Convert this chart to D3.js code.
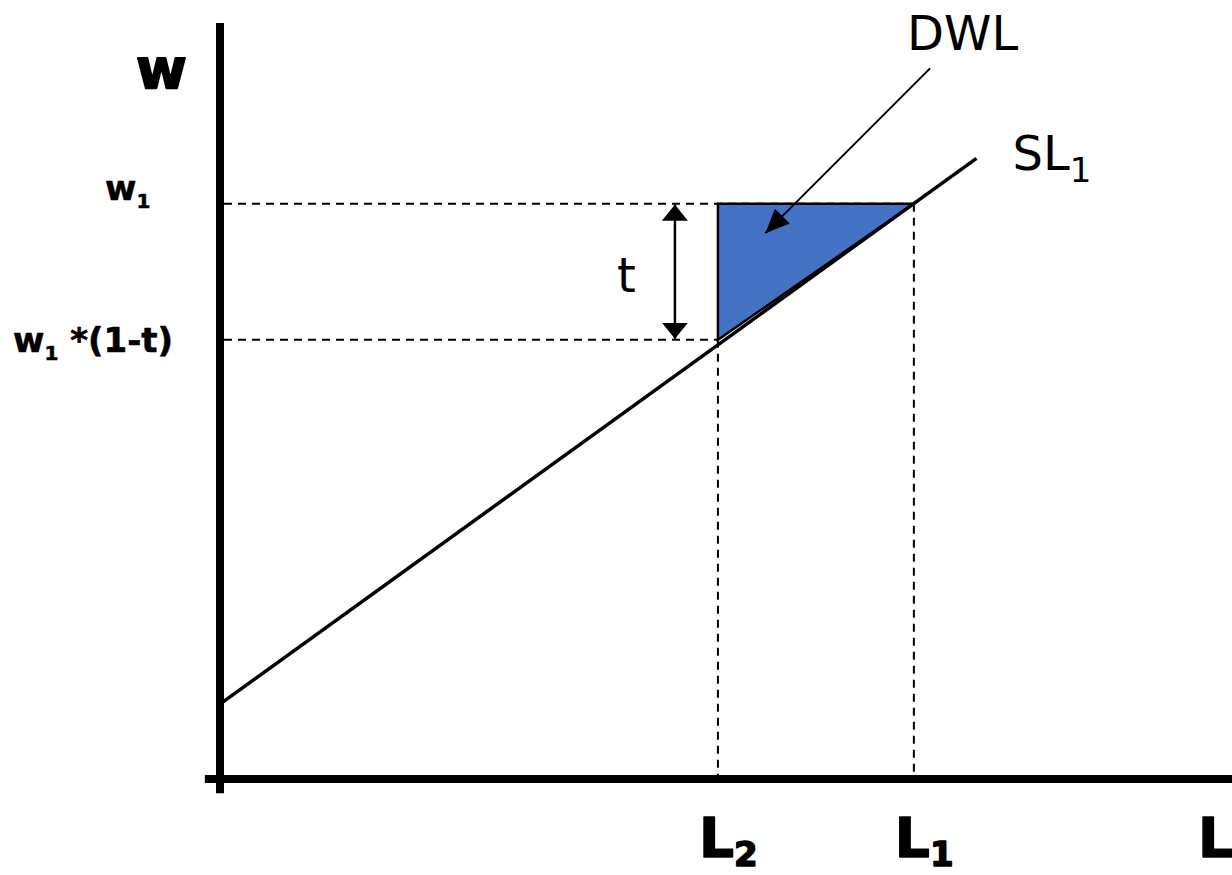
<!DOCTYPE html>
<html>
<head>
<meta charset="utf-8">
<script src="https://cdn.jsdelivr.net/npm/d3@7"></script>
<style>
  html, body { margin: 0; padding: 0; background: #fff; overflow: hidden; }
  svg { display: block; font-family: "DejaVu Sans", Verdana, sans-serif; }
</style>
</head>
<body>
<div id="chart"></div>
<script>
// Wage levels on the vertical axis: w1 and w1*(1-t)
const wageLevels = [76.1, 58.1]
const wageNames = [['w', '1', ''], ['w', '1', ' *(1-t)']]
// Labour levels on the horizontal axis: L2 and L1
const laborLevels = [49.3, 68.7]
const laborNames = [['L', '2'], ['L', '1']]
// Labour supply curve SL1 (start and end)
const supplyL = [0.3, 74.9]
const supplyW = [10.2, 82.1]
// Dead weight loss triangle corners
const dwlL = [49.3, 68.7, 49.3]
const dwlW = [76.1, 76.1, 58.1]
// DWL pointer (tail, tip)
const pointerL = [70.3, 54.0]
const pointerW = [94.0, 72.2]

const width = 1232, height = 875

let x = d3.scaleLinear().domain([0, 100]).range([220, 1230])
let y = d3.scaleLinear().domain([0, 100]).range([779, 23])

let svg = d3.select('#chart').append('svg')
  .attr('width', width)
  .attr('height', height)

// Arrow head markers (len along the line, wid across it)
let defs = svg.append('defs')
let addHead = (id, len, wid) => {
  defs.append('marker')
    .attr('id', id)
    .attr('viewBox', `0 0 ${len} ${wid}`)
    .attr('refX', len)
    .attr('refY', wid / 2)
    .attr('markerUnits', 'userSpaceOnUse')
    .attr('markerWidth', len)
    .attr('markerHeight', wid)
    .attr('orient', 'auto-start-reverse')
    .append('path')
    .attr('d', `M0,0 L${len},${wid / 2} L0,${wid} Z`)
    .attr('fill', '#000')
}
addHead('headT', 16, 26)
addHead('headDwl', 24, 21)

// Dashed guides
let dashed = svg.append('g')
  .attr('stroke', '#000')
  .attr('stroke-width', 2)
  .attr('stroke-dasharray', '8,6')
  .attr('fill', 'none')
wageLevels.forEach((w, i) => {
  dashed.append('line')
    .attr('x1', x(0) + 4)
    .attr('x2', x(laborLevels[laborLevels.length - 1 - i]))
    .attr('y1', y(w))
    .attr('y2', y(w))
})
laborLevels.forEach((l, i) => {
  dashed.append('line')
    .attr('x1', x(l))
    .attr('x2', x(l))
    .attr('y1', y(wageLevels[wageLevels.length - 1 - i]))
    .attr('y2', y(0) - 4)
})

// DWL triangle
svg.append('path')
  .datum(dwlL.map((l, i) => [l, dwlW[i]]))
  .attr('d', d3.line().x(d => x(d[0])).y(d => y(d[1])).curve(d3.curveLinearClosed))
  .attr('fill', '#4472C4')
  .attr('stroke', '#000')
  .attr('stroke-width', 2.5)

// Supply curve
svg.append('path')
  .datum(supplyL.map((l, i) => [l, supplyW[i]]))
  .attr('d', d3.line().x(d => x(d[0])).y(d => y(d[1])))
  .attr('fill', 'none')
  .attr('stroke', '#000')
  .attr('stroke-width', 3.5)

// Axes
svg.append('line')
  .attr('x1', x(0)).attr('x2', x(0))
  .attr('y1', y(100)).attr('y2', y(-1.9))
  .attr('stroke', '#000').attr('stroke-width', 8)
svg.append('line')
  .attr('x1', x(-1.5)).attr('x2', x(100.3))
  .attr('y1', y(0)).attr('y2', y(0))
  .attr('stroke', '#000').attr('stroke-width', 8)

// Tax wedge arrow t
let tx = x(laborLevels[0]) - 43
svg.append('line')
  .attr('x1', tx).attr('x2', tx)
  .attr('y1', y(wageLevels[0]) + 1)
  .attr('y2', y(wageLevels[1]) - 1)
  .attr('stroke', '#000')
  .attr('stroke-width', 2.5)
  .attr('marker-start', 'url(#headT)')
  .attr('marker-end', 'url(#headT)')
svg.append('text')
  .attr('x', tx - 39)
  .attr('y', y(wageLevels[1]) - 48)
  .attr('text-anchor', 'end')
  .style('font-size', '48px')
  .text('t')

// DWL pointer
svg.append('line')
  .attr('x1', x(pointerL[0])).attr('y1', y(pointerW[0]))
  .attr('x2', x(pointerL[1])).attr('y2', y(pointerW[1]))
  .attr('stroke', '#000')
  .attr('stroke-width', 2)
  .attr('marker-end', 'url(#headDwl)')
svg.append('text')
  .attr('x', x(pointerL[0]) - 23)
  .attr('y', y(pointerW[0]) - 18)
  .style('font-size', '48px')
  .text('DWL')

// SL1 label
let sl = svg.append('text')
  .attr('x', x(supplyL[1]) + 36)
  .attr('y', y(supplyW[1]) + 12)
  .style('font-size', '48px')
sl.append('tspan').text('SL')
sl.append('tspan').attr('dy', 12).style('font-size', '34px').text('1')

// Bold labels get a thin outline to match the heavier original face
let heavy = (sel, w) => sel.style('font-weight', 'bold')
  .attr('stroke', '#000').attr('stroke-width', w).attr('stroke-linejoin', 'round')

// Axis titles
heavy(svg.append('text')
  .attr('x', x(0) - 84)
  .attr('y', y(100) + 65)
  .style('font-size', '55px')
  .text('w'), 2)
heavy(svg.append('text')
  .attr('x', x(100) - 32)
  .attr('y', 857)
  .style('font-size', '55px')
  .text('L'), 1.5)

// Wage labels
let wageX = [105, 13]
let wageDy = [-4, 12]
wageLevels.forEach((w, i) => {
  let t = heavy(svg.append('text')
    .attr('x', wageX[i])
    .attr('y', y(w) + wageDy[i])
    .style('font-size', '34px'), 0.6)
  t.append('tspan').text(wageNames[i][0])
  t.append('tspan').attr('dy', 8).style('font-size', '20px').text(wageNames[i][1])
  if (wageNames[i][2]) {
    t.append('tspan').attr('dy', -8).text(wageNames[i][2])
  }
})

// Labour labels
laborLevels.forEach((l, i) => {
  let t = heavy(svg.append('text')
    .attr('x', x(l) - 19)
    .attr('y', 857)
    .style('font-size', '55px'), 1.5)
  t.append('tspan').text(laborNames[i][0])
  t.append('tspan').attr('dy', 9).style('font-size', '34px').text(laborNames[i][1])
})
</script>
</body>
</html>
